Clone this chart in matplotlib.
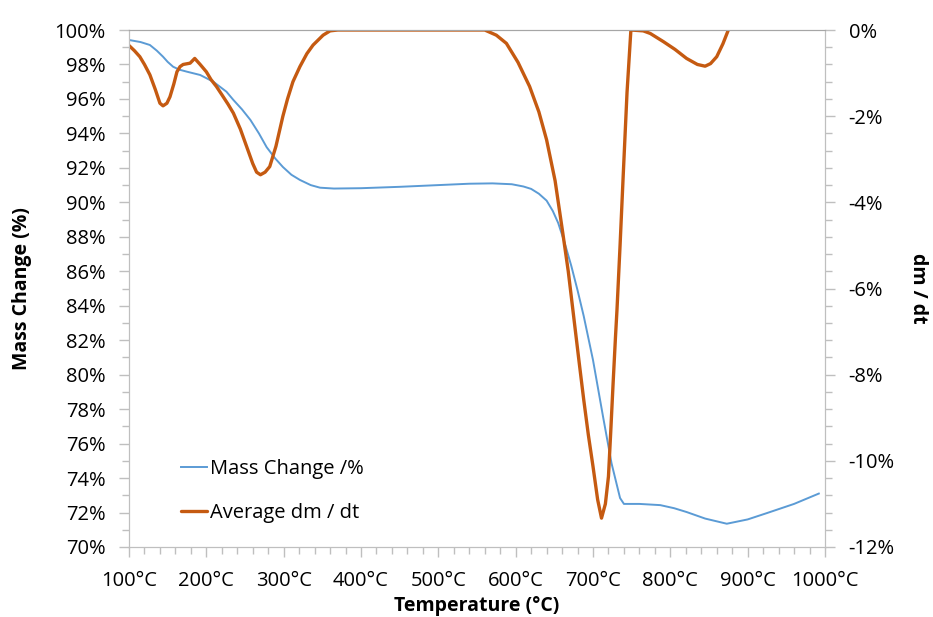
import matplotlib
matplotlib.use("Agg")
import matplotlib.pyplot as plt
from matplotlib.ticker import MultipleLocator, FuncFormatter

plt.rcParams["font.family"] = ["Open Sans", "DejaVu Sans"]

# Mass change curve (left axis, %)
temp_mass = [100, 115, 127, 136, 144, 150, 157, 165, 175, 192, 209, 226, 235,
             246, 257, 268, 278, 289, 299, 310, 321, 335, 347, 365, 400, 450,
             500, 540, 570, 595, 610, 620, 630, 640, 648, 655, 663, 672, 680,
             688, 700, 713, 724, 735, 740, 760, 787, 805, 821, 845, 873, 900,
             925, 960, 992]
mass_pct = [99.42, 99.3, 99.13, 98.8, 98.45, 98.15, 97.87, 97.7, 97.58, 97.39,
            97.0, 96.42, 95.94, 95.4, 94.78, 94.0, 93.2, 92.55, 92.05, 91.6,
            91.3, 91.0, 90.85, 90.8, 90.82, 90.9, 91.0, 91.08, 91.1, 91.05,
            90.92, 90.78, 90.5, 90.1, 89.5, 88.8, 87.7, 86.3, 84.9, 83.4,
            80.85, 77.56, 74.85, 72.84, 72.5, 72.5, 72.43, 72.25, 72.03, 71.65,
            71.35, 71.6, 71.97, 72.5, 73.1]

# Average dm/dt curve (right axis, %)
temp_dmdt = [100, 107, 114, 120, 127, 134, 140, 144, 149, 153, 158, 162, 166,
             170, 179, 185, 192, 200, 206, 213, 220, 228, 235, 244, 252, 260,
             265, 270, 276, 282, 290, 299, 305, 312, 321, 330, 338, 351, 360,
             370, 560, 575, 588, 603, 618, 630, 640, 651, 661, 668, 675, 682,
             688, 694, 700, 706, 711, 716, 720, 723, 726, 729, 731, 735, 739,
             744, 749, 765, 774, 791, 806, 821, 835, 845, 852, 860, 868, 875,
             882, 890]
dmdt_pct = [-0.36, -0.48, -0.62, -0.8, -1.04, -1.38, -1.7, -1.76, -1.70,
            -1.55, -1.25, -0.97, -0.85, -0.8, -0.77, -0.66, -0.8, -0.97, -1.15,
            -1.31, -1.5, -1.72, -1.93, -2.3, -2.7, -3.1, -3.3, -3.36, -3.3,
            -3.17, -2.7, -2.0, -1.6, -1.2, -0.85, -0.55, -0.35, -0.12, -0.02,
            0.0, 0.0, -0.12, -0.31, -0.75, -1.31, -1.9, -2.55, -3.5, -4.72,
            -5.6, -6.65, -7.7, -8.58, -9.4, -10.13, -10.9, -11.33, -11.0,
            -10.36, -9.3, -8.2, -7.15, -6.5, -5.0, -3.4, -1.45, 0.0, -0.02,
            -0.08, -0.27, -0.45, -0.66, -0.8, -0.84, -0.78, -0.62, -0.32, 0.0,
            0.3, 0.5]

blue = "#5B9BD5"
orange = "#C55A11"
grey = "#BFBFBF"

fig = plt.figure(figsize=(9.33, 6.17), dpi=100)
ax = fig.add_axes([129 / 933, 1 - 547 / 617, 696 / 933, 517 / 617])
ax2 = ax.twinx()

l1, = ax.plot(temp_mass, mass_pct, color=blue, lw=1.4, label="Mass Change /%")
l2, = ax2.plot(temp_dmdt, dmdt_pct, color=orange, lw=2.4,
               label="Average dm / dt", solid_capstyle="round",
               solid_joinstyle="round")

ax.set_xlim(100, 1000)
ax.set_ylim(70, 100)
ax2.set_ylim(-12, 0)

ax.xaxis.set_major_locator(MultipleLocator(100))
ax.xaxis.set_minor_locator(MultipleLocator(20))
ax.yaxis.set_major_locator(MultipleLocator(2))
ax.yaxis.set_minor_locator(MultipleLocator(1))
ax2.yaxis.set_major_locator(MultipleLocator(2))
ax2.yaxis.set_minor_locator(MultipleLocator(0.4))

ax.xaxis.set_major_formatter(FuncFormatter(lambda v, p: f"{int(round(v))}°C"))
ax.yaxis.set_major_formatter(FuncFormatter(lambda v, p: f"{int(round(v))}%"))
ax2.yaxis.set_major_formatter(FuncFormatter(lambda v, p: f"{int(round(v))}%"))

for a in (ax, ax2):
    a.tick_params(which="both", color=grey, labelsize=14.5, direction="out")
    a.tick_params(which="major", length=7, width=1)
    a.tick_params(which="minor", length=5, width=1)
    for s in a.spines.values():
        s.set_color(grey)
    a.spines["top"].set_color("#A6A6A6")
ax.tick_params(axis="y", pad=10)
ax2.tick_params(axis="y", pad=10)
ax.tick_params(axis="x", pad=10)

ax.set_xlabel("Temperature (°C)", fontsize=14, fontweight="bold", labelpad=4)
ax.set_ylabel("Mass Change (%)", fontsize=14, fontweight="bold", labelpad=16)
ax2.set_ylabel("dm / dt", fontsize=14, fontweight="bold", rotation=270,
               labelpad=24)

ax2.legend(handles=[l1, l2], loc="upper left", bbox_to_anchor=(0.075, 0.17),
           frameon=False, fontsize=14.5, handlelength=1.3, handletextpad=0.15,
           labelspacing=1.2, borderpad=0, borderaxespad=0)

fig.savefig("out.png", dpi=100)
